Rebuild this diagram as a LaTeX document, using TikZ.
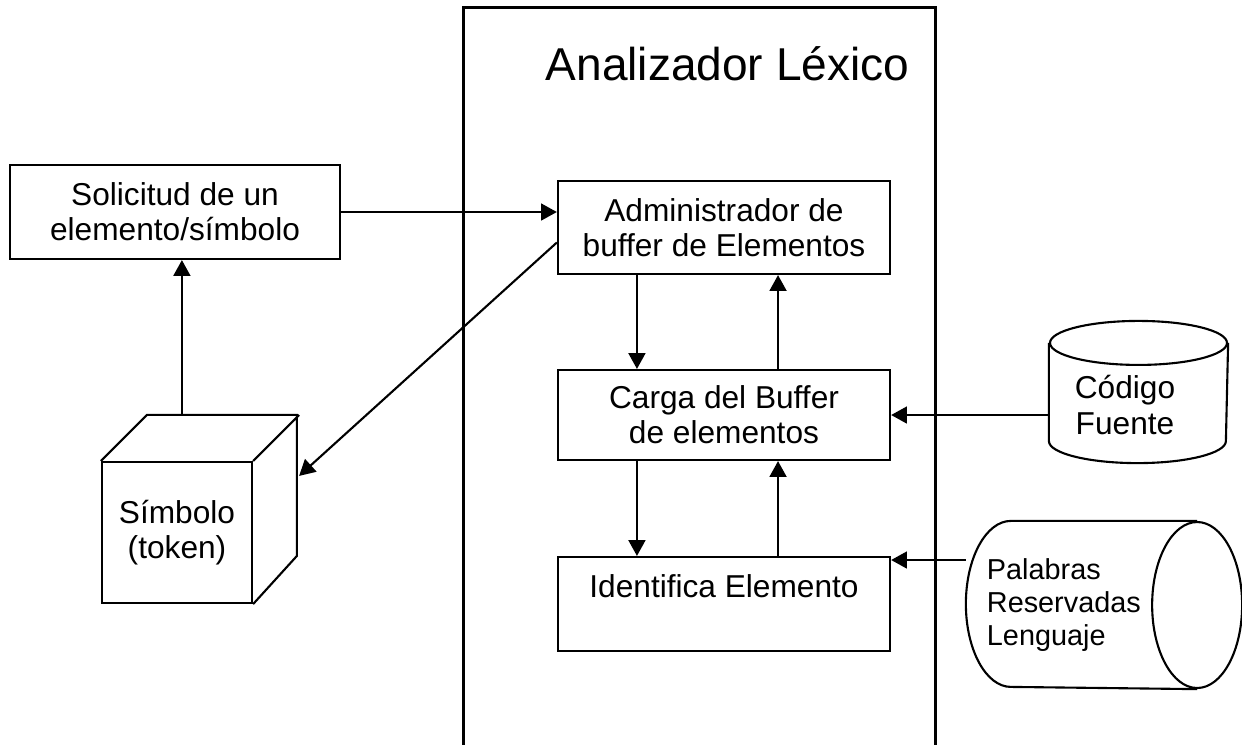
\documentclass[tikz,border=0pt]{standalone}
\usepackage{fontspec}
\setmainfont{Liberation Sans}
\usetikzlibrary{arrows.meta,calc}

\begin{document}
\begin{tikzpicture}[x=0.01cm,y=-0.01cm,>={Triangle[length=4.5pt,width=4.8pt]},
                    line width=0.6pt,font=\fontsize{9}{10}\selectfont,
                    block/.style={rectangle,draw,align=center,minimum width=3.32cm,minimum height=0.93cm,inner sep=0pt}]

  \useasboundingbox (0,0) rectangle (1242,744);

  \node[draw,line width=0.85pt,minimum width=4.71cm,minimum height=7.39cm] (lexico) at (699.5,377.5) {};
  \node[font=\fontsize{13.1}{15}\selectfont,anchor=base] (titulo) at (727.5,80) {Analizador Léxico};

  \node[block,minimum width=3.3cm,minimum height=0.94cm] (solicitud) at (175,212) {Solicitud de un\\elemento/símbolo};
  \node[block] (admin) at (724,227.5) {Administrador de\\buffer de Elementos};
  \node[block,minimum height=0.9cm] (carga) at (724,415) {Carga del Buffer\\de elementos};
  \node[block,minimum height=0.94cm] (identifica) at (724,604) {Identifica Elemento\\~};

  \node[draw,minimum width=1.5cm,minimum height=1.41cm,align=center] (simbolo) at (177,532.5) {Símbolo\\(token)};
  \draw (simbolo.north west) -- ++(46,-46) -- ++(150,0) -- ++(0,141) -- (simbolo.south east)
        (simbolo.north east) -- ++(46,-46);
  \coordinate (cubetop) at ($(simbolo.north west)+(81,-46)$);
  \coordinate (cubeside) at ($(simbolo.north east)+(46,15)$);

  \node[minimum width=1.77cm,minimum height=1.4cm] (codigo) at (1138.5,392) {};
  \draw ($(codigo.north west)+(0,22)$) -- ($(codigo.south west)+(0,-22)$) arc (180:0:88.5 and 22)
        -- ($(codigo.north east)+(0,22)$);
  \draw ($(codigo.north)+(0,22)$) ellipse (88.5 and 22);
  \node[align=center] (codigotxt) at (1125,405) {Código\\Fuente};

  \node[minimum width=2.74cm,minimum height=1.66cm,text width=2.34cm,inner xsep=0.2cm,align=left,
        font=\fontsize{8.2}{9.4}\selectfont] (palabras) at (1104,605) {Palabras\\Reservadas\\Lenguaje};
  \draw ($(palabras.north east)+(-45,0)$) -- ($(palabras.north west)+(45,0)$) arc (270:90:45 and 83)
        -- ($(palabras.south east)+(-45,0)$);
  \draw ($(palabras.east)+(-45,0)$) ellipse (45 and 83);
  \coordinate (entrada) at ($(palabras.west)+(0,-45)$);

  \draw[->] (solicitud.east) -- (solicitud.east -| admin.west);
  \draw[->] ($(admin.west)+(0,15)$) -- (cubeside);
  \draw[->] (cubetop) -- (cubetop |- solicitud.south);
  \draw[->] ([xshift=-0.87cm]admin.south) -- ([xshift=-0.87cm]carga.north);
  \draw[->] ([xshift=0.54cm]carga.north) -- ([xshift=0.54cm]admin.south);
  \draw[->] ([xshift=-0.87cm]carga.south) -- ([xshift=-0.87cm]identifica.north);
  \draw[->] ([xshift=0.54cm]identifica.north) -- ([xshift=0.54cm]carga.south);
  \draw[->] (codigo.west |- carga.east) -- (carga.east);
  \draw[->] (entrada) -- (entrada -| identifica.east);
\end{tikzpicture}
\end{document}
